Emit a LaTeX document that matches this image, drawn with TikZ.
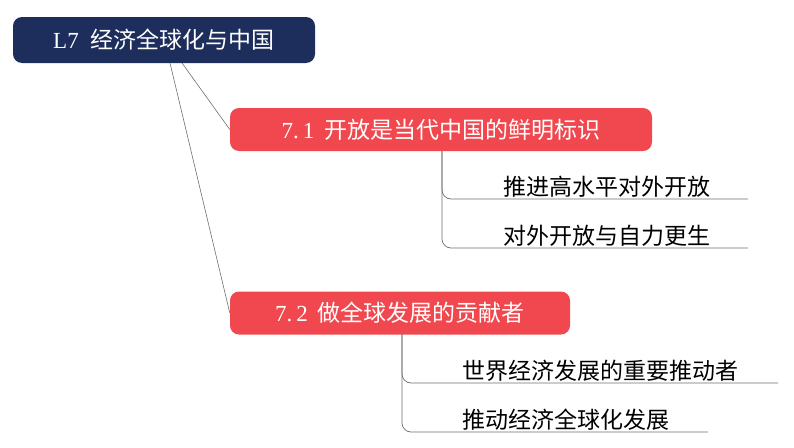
\documentclass[tikz,border=0pt]{standalone}
\usepackage{fontspec}
\setmainfont{Liberation Serif}
\newfontfamily\cjk{Noto Sans CJK SC}
\definecolor{navy}{RGB}{30,46,92}
\definecolor{topicred}{RGB}{240,72,78}
\definecolor{linegray}{RGB}{110,110,110}
\tikzset{
  rootbox/.style={fill=navy, rounded corners=9pt, text=white, minimum width=302pt, minimum height=46pt, inner sep=0pt, font=\fontsize{23}{27}\selectfont},
  topicbox/.style={fill=topicred, rounded corners=9pt, text=white, minimum height=43pt, inner sep=0pt, font=\fontsize{23}{27}\selectfont},
  leaf/.style={anchor=base west, inner sep=0pt, text=black, font=\fontsize{23}{27}\selectfont\cjk},
  rootlink/.style={draw=linegray, line width=0.6pt},
  leaflink/.style={draw=linegray, line width=0.7pt, rounded corners=9pt},
}
\begin{document}
\begin{tikzpicture}[x=1pt,y=-1pt]
\useasboundingbox (0,0) rectangle (794,447);
\node[rootbox] (root) at (164,40) {L7\hspace{12pt}{\cjk 经济全球化与中国}};
\node[topicbox, minimum width=422pt] (t1) at (441,129.5) {7.\,1\hspace{10pt}{\cjk 开放是当代中国的鲜明标识}};
\node[topicbox, minimum width=340pt] (t2) at (400,313) {7.\,2\hspace{10pt}{\cjk 做全球发展的贡献者}};
% root connectors
\coordinate (ra) at (182,63);
\coordinate (rb) at (170,63);
\draw[rootlink] (ra) -- (t1.west);
\draw[rootlink] (rb) -- (t2.west);
% leaves of 7.1
\node[leaf] (l11) at (503,195.5) {推进高水平对外开放};
\node[leaf] (l12) at (503,244.5) {对外开放与自力更生};
\coordinate (s1) at (442,151);
\coordinate (e11) at (748,199);
\coordinate (e12) at (748,248);
\draw[leaflink] (s1) |- (e11);
\draw[leaflink] (s1) |- (e12);
% leaves of 7.2
\node[leaf] (l21) at (462,379.5) {世界经济发展的重要推动者};
\node[leaf] (l22) at (462,428.5) {推动经济全球化发展};
\coordinate (s2) at (402,334);
\coordinate (e21) at (778,383);
\coordinate (e22) at (708,432);
\draw[leaflink] (s2) |- (e21);
\draw[leaflink] (s2) |- (e22);
\end{tikzpicture}
\end{document}
